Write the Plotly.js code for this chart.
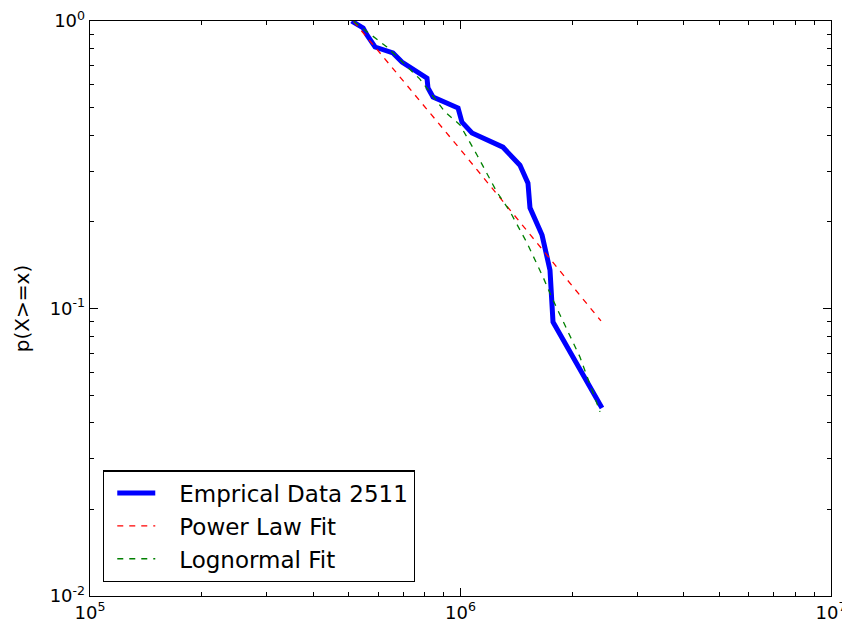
<!DOCTYPE html>
<html>
<head>
<meta charset="utf-8">
<script src="https://cdn.plot.ly/plotly-3.0.1.min.js"></script>
<style>html,body{margin:0;padding:0;background:#fff;}#chart{width:842px;height:623px;}</style>
</head>
<body>
<div id="chart"></div>
<script>
// Empirical CCDF
const empX = [509e3, 513e3, 546e3, 559e3, 588e3, 657e3, 695e3, 812e3, 817e3, 843e3, 985e3, 1.009e6, 1.074e6, 1.302e6, 1.447e6, 1.521e6, 1.540e6, 1.660e6, 1.744e6, 1.777e6, 2.409e6];
const empY = [1.0, 0.992, 0.946, 0.894, 0.812, 0.774, 0.720, 0.633, 0.585, 0.544, 0.498, 0.445, 0.408, 0.364, 0.315, 0.273, 0.224, 0.180, 0.136, 0.0897, 0.0451];
// Power law fit
const powX = [515e3, 1.0e6, 2.394e6];
const powY = [0.996, 0.357, 0.0905];
// Lognormal fit
const logX = [515e3, 580e3, 633e3, 777e3, 908e3, 997e3, 1.108e6, 1.254e6, 1.360e6, 1.512e6, 1.670e6, 1.777e6, 1.938e6, 2.101e6, 2.380e6];
const logY = [0.996, 0.887, 0.812, 0.628, 0.483, 0.435, 0.342, 0.254, 0.2175, 0.169, 0.1287, 0.107, 0.0842, 0.0678, 0.0437];

const xTickVals = [1e5, 1e6, 1e7];
const xTickText = ['10<sup>5</sup>', '10<sup>6</sup>', '10<sup>7</sup>'];
const yTickVals = [1e-2, 1e-1, 1];
const yTickText = ['10<sup>-2</sup>', '10<sup>-1</sup>', '10<sup>0</sup>'];

const traces = [
  {x: empX, y: empY, mode: 'lines', name: 'Emprical Data 2511', line: {color: '#0000ff', width: 5}},
  {x: powX, y: powY, mode: 'lines', name: 'Power Law Fit', line: {color: '#ff0000', width: 1.3, dash: '6px,6px'}},
  {x: logX, y: logY, mode: 'lines', name: 'Lognormal Fit', line: {color: '#008000', width: 1.3, dash: '6px,6px'}}
];

const layout = {
  width: 842, height: 623,
  margin: {l: 90, r: 11, t: 21, b: 27},
  paper_bgcolor: '#fff', plot_bgcolor: '#fff',
  font: {family: 'DejaVu Sans', color: '#000'},
  showlegend: true,
  legend: {x: 0.0175, y: 0.024, xanchor: 'left', yanchor: 'bottom', bgcolor: '#fff', bordercolor: '#000', borderwidth: 1.3, itemwidth: 65, font: {family: 'DejaVu Sans', size: 23, color: '#000'}},
  xaxis: {
    type: 'log', range: [5, 7], showgrid: false, zeroline: false,
    showline: true, linecolor: '#000', linewidth: 1.3, mirror: 'allticks',
    ticks: 'inside', ticklen: 8, tickcolor: '#000', tickwidth: 1,
    tickmode: 'array', tickvals: xTickVals, ticktext: xTickText,
    ticklabeloverflow: 'allow',
    tickfont: {family: 'DejaVu Sans', size: 18, color: '#000'},
    minor: {ticks: 'inside', ticklen: 4, tickcolor: '#000', tickwidth: 1, tickmode: 'array', tickvals: [2e5,3e5,4e5,5e5,6e5,7e5,8e5,9e5,2e6,3e6,4e6,5e6,6e6,7e6,8e6,9e6], showgrid: false}
  },
  yaxis: {
    type: 'log', range: [-2, 0], showgrid: false, zeroline: false,
    showline: true, linecolor: '#000', linewidth: 1.3, mirror: 'allticks',
    ticks: 'inside', ticklen: 8, tickcolor: '#000', tickwidth: 1,
    tickmode: 'array', tickvals: yTickVals, ticktext: yTickText,
    tickfont: {family: 'DejaVu Sans', size: 18, color: '#000'},
    minor: {ticks: 'inside', ticklen: 4, tickcolor: '#000', tickwidth: 1, tickmode: 'array', tickvals: [0.02,0.03,0.04,0.05,0.06,0.07,0.08,0.09,0.2,0.3,0.4,0.5,0.6,0.7,0.8,0.9], showgrid: false},
    title: {text: 'p(X>=x)', font: {family: 'DejaVu Sans', size: 20, color: '#000'}, standoff: 14}
  }
};

Plotly.newPlot('chart', traces, layout, {displayModeBar: false, staticPlot: true}).then(function (gd) {
  // shorten legend line symbols to leave a gap before the labels, as in the reference
  gd.querySelectorAll('.legend .legendlines path').forEach(function (p) {
    p.setAttribute('d', 'M13,0h38');
  });
});
</script>
</body>
</html>
